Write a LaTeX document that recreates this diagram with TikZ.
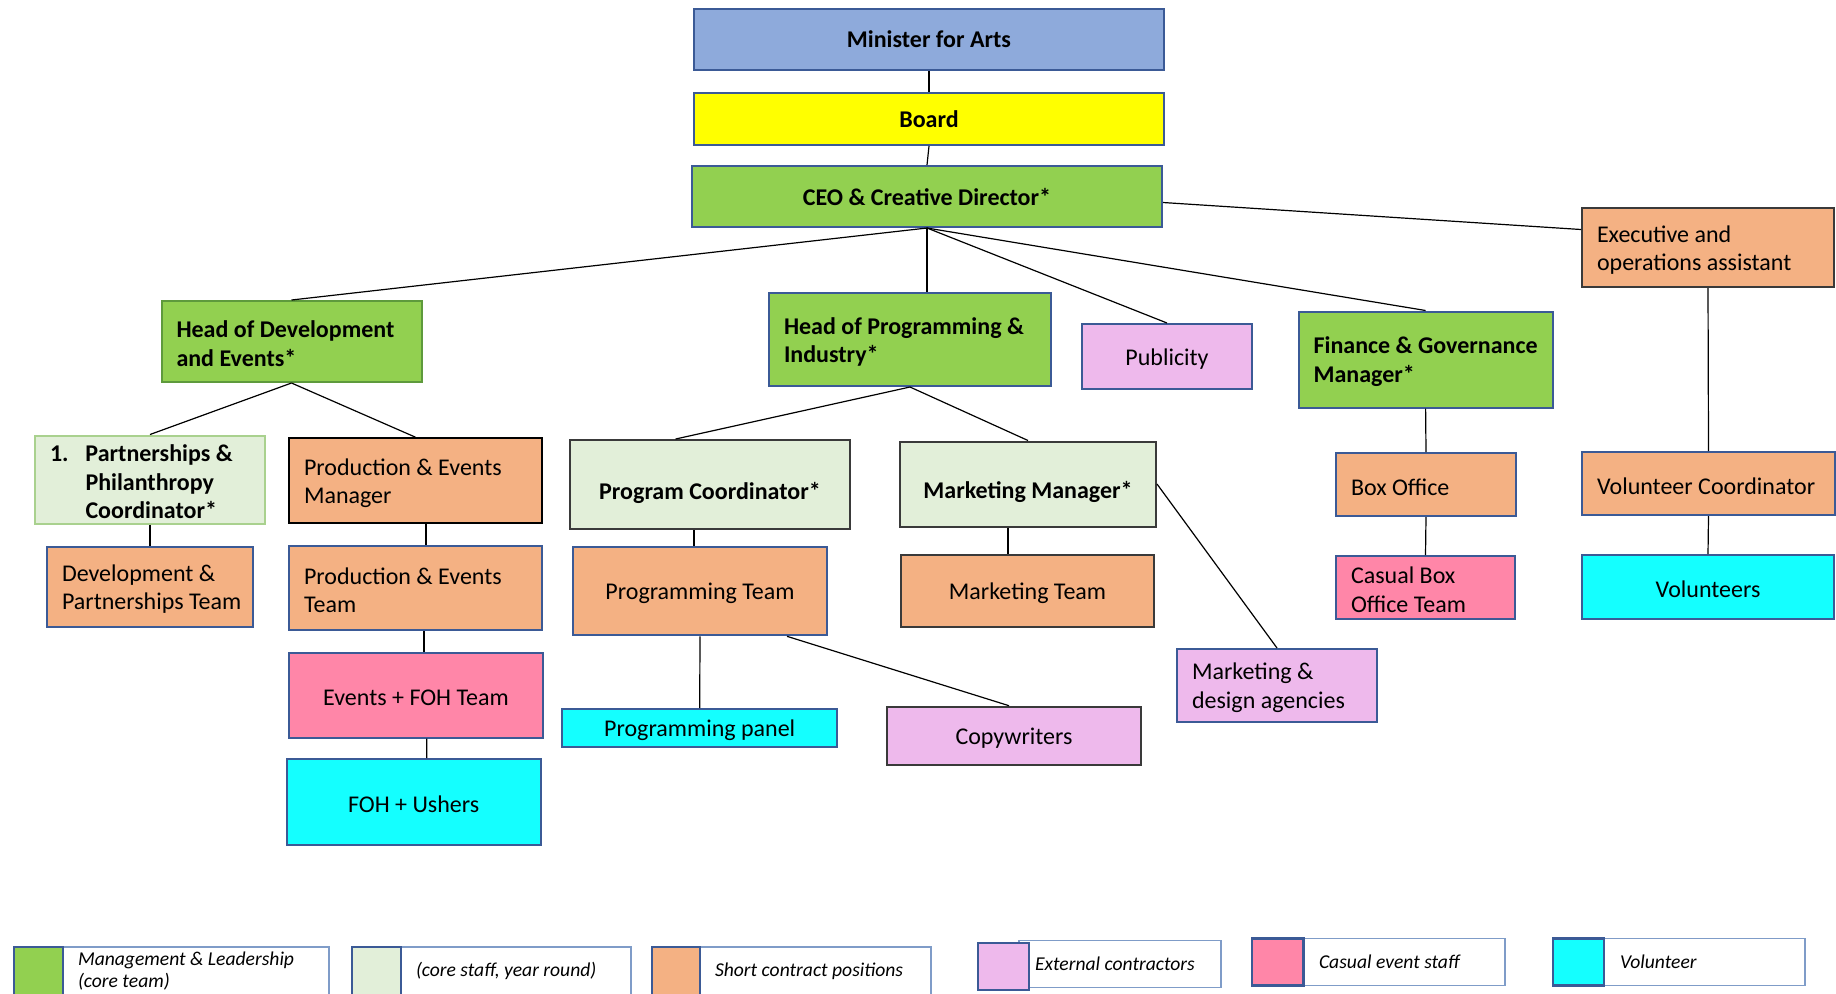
\documentclass[tikz,border=0pt]{standalone}
\usepackage{fontspec}
\setmainfont{Carlito}
\usetikzlibrary{calc}
\definecolor{cblue}{HTML}{8EAADB}
\definecolor{cyel}{HTML}{FFFF00}
\definecolor{cgreen}{HTML}{92D050}
\definecolor{clgreen}{HTML}{E2EFD9}
\definecolor{corange}{HTML}{F4B183}
\definecolor{clav}{HTML}{EEB9EC}
\definecolor{cpink}{HTML}{FF86A8}
\definecolor{ccyan}{HTML}{14FFFF}
\definecolor{bblue}{HTML}{3B5A96}
\definecolor{bgray}{HTML}{3A3A3A}
\definecolor{bhgreen}{HTML}{5E9A3C}
\definecolor{bpgreen}{HTML}{A9D18E}
\definecolor{lgline}{HTML}{7F9CC8}
\begin{document}
\begin{tikzpicture}[x=0.5pt,y=-0.5pt,
  base0/.style={draw=bblue, line width=1pt, inner ysep=1pt, font=\fontsize{12}{14.1}\selectfont, text=black},
  base/.style={base0, execute at begin node={\rule{0pt}{10.6pt}}},
  heavy/.style={font=\fontsize{12}{14.1}\selectfont\bfseries},
  lower/.style={execute at begin node={\rule{0pt}{17pt}}},
  lbox/.style={base, align=flush left, inner xsep=7.5pt},
  cbox/.style={base, align=center, inner xsep=2pt},
  topbox/.style={base0, align=center, inner xsep=2pt},
  conn/.style={draw=black, line width=0.6pt},
  legsq/.style={draw=bblue, line width=1.2pt, inner sep=0pt},
  legtx/.style={draw=lgline, line width=0.7pt, fill=white, align=flush left, inner xsep=7.5pt, inner ysep=0pt, font=\fontsize{9.8}{10.6}\selectfont\itshape}
]
\useasboundingbox (0,0) rectangle (1836,993);
\clip (0,0) rectangle (1836,993);

% top
\node[topbox, heavy, fill=cblue, minimum width=235pt, minimum height=30.5pt] (minister) at (929,39.5) {Minister for Arts};
\node[topbox, heavy, fill=cyel, minimum width=235pt, minimum height=26pt] (board) at (929,119) {Board};
\node[topbox, heavy, fill=cgreen, minimum width=235pt, minimum height=30.5pt] (ceo) at (927,196.5) {CEO \& Creative Director*};
\node[lbox, fill=corange, draw=bgray, minimum width=126pt, minimum height=39.5pt, text width=111pt] (exec) at (1708,247.5) {\mbox{Executive and}\\\mbox{operations assistant}};

% second level
\node[lbox, heavy, fill=cgreen, draw=bhgreen, minimum width=130pt, minimum height=40.5pt, text width=115pt] (hod) at (291.5,341.5) {\mbox{Head of Development}\\\mbox{and Events*}};
\node[lbox, heavy, fill=cgreen, minimum width=141pt, minimum height=46.5pt, text width=126pt] (hop) at (910,339.5) {\mbox{Head of Programming \&}\\\mbox{Industry*}};
\node[cbox, fill=clav, minimum width=85pt, minimum height=32.5pt] (pub) at (1167,356.5) {Publicity};
\node[lbox, heavy, fill=cgreen, minimum width=127pt, minimum height=48pt, text width=112pt] (fin) at (1425.6,359.5) {\mbox{Finance \& Governance}\\\mbox{Manager*}};

% third level
\node[lbox, heavy, fill=clgreen, draw=bpgreen, minimum width=115pt, minimum height=44pt, text width=100pt] (part) at (150,479.5) {\makebox[17.75pt][l]{1.}Partnerships \&\\\hspace*{17.75pt}Philanthropy\\\hspace*{17.75pt}Coordinator*};
\node[lbox, fill=corange, draw=black, minimum width=126.5pt, minimum height=42.5pt, text width=111.5pt] (pem) at (415.5,480.7) {\mbox{Production \& Events}\\\mbox{Manager}};
\node[cbox, heavy, lower, fill=clgreen, draw=bgray, minimum width=140pt, minimum height=44.5pt] (pc) at (710,484.5) {Program Coordinator*};
\node[cbox, heavy, lower, fill=clgreen, draw=bgray, minimum width=128pt, minimum height=42.5pt] (mm) at (1028,484) {Marketing Manager*};
\node[lbox, fill=corange, minimum width=90pt, minimum height=31.5pt, text width=75pt] (bo) at (1426,484.5) {\mbox{Box Office}};
\node[lbox, fill=corange, minimum width=126.5pt, minimum height=31.5pt, text width=111.5pt] (volc) at (1708.5,483.5) {\mbox{Volunteer Coordinator}};

% fourth level
\node[lbox, fill=corange, minimum width=103pt, minimum height=40pt, text width=88pt] (devt) at (150,587) {\mbox{Development \&}\\\mbox{Partnerships Team}};
\node[lbox, fill=corange, minimum width=126.5pt, minimum height=42pt, text width=111.5pt] (pet) at (415.5,588) {\mbox{Production \& Events}\\\mbox{Team}};
\node[cbox, fill=corange, minimum width=126.75pt, minimum height=44.3pt] (pt) at (700,591) {Programming Team};
\node[cbox, fill=corange, draw=bgray, minimum width=126.5pt, minimum height=36pt] (mt) at (1027.5,591.3) {Marketing Team};
\node[lbox, fill=cpink, minimum width=89.5pt, minimum height=31.5pt, text width=74.5pt] (cbo) at (1425.5,587.5) {\mbox{Casual Box}\\\mbox{Office Team}};
\node[cbox, fill=ccyan, minimum width=126pt, minimum height=32pt] (vols) at (1708,587) {Volunteers};

% lower levels
\node[lbox, fill=clav, minimum width=100pt, minimum height=36.5pt, text width=85pt] (md) at (1277,685.5) {\mbox{Marketing \&}\\\mbox{design agencies}};
\node[cbox, fill=cpink, minimum width=127pt, minimum height=42.5pt] (events) at (416,695) {Events + FOH Team};
\node[cbox, fill=ccyan, minimum width=127pt, minimum height=43pt] (foh) at (413.7,802) {FOH + Ushers};
\node[cbox, fill=ccyan, minimum width=137.3pt, minimum height=19pt, inner ysep=0pt] (pp) at (699.7,728) {Programming panel};
\node[cbox, fill=clav, draw=bgray, minimum width=126.75pt, minimum height=29.3pt] (copy) at (1014,736) {Copywriters};

% connectors
\draw[conn] (minister.south) -- (board.north);
\draw[conn] (board.south) -- (ceo.north);
\draw[conn] ([yshift=-3pt]ceo.east) -- ([yshift=9pt]exec.west);
\draw[conn] (ceo.south) -- (hod.north);
\draw[conn] (ceo.south) -- (ceo.south |- hop.north);
\draw[conn] (ceo.south) -- (pub.north);
\draw[conn] (ceo.south) -- (fin.north);
\draw[conn] (exec.south) -- (volc.north);
\draw[conn] (volc.south) -- (vols.north);
\draw[conn] (fin.south) -- (bo.north);
\draw[conn] (bo.south) -- (cbo.north);
\draw[conn] (hod.south) -- (part.north);
\draw[conn] (hod.south) -- (pem.north);
\draw[conn] (part.south) -- (devt.north);
\draw[conn] ([xshift=5.25pt]pem.south) -- ([xshift=5.25pt]pet.north);
\draw[conn] ([xshift=4.25pt]pet.south) -- ([xshift=4pt]events.north);
\draw[conn] ([xshift=5.35pt]events.south) -- ([xshift=6.5pt]foh.north);
\draw[conn] (hop.south) -- ([xshift=-17.2pt]pc.north);
\draw[conn] (hop.south) -- (mm.north);
\draw[conn] ([xshift=-8pt]pc.south) -- ([xshift=-3pt]pt.north);
\draw[conn] ([xshift=-10pt]mm.south) -- ([xshift=-9.75pt]mt.north);
\draw[conn] (mm.east) -- (md.north);
\draw[conn] (pt.south) -- (pp.north);
\draw[conn] ([xshift=43.5pt]pt.south) -- ([xshift=-2.5pt]copy.north);

% legend
\node[legtx, minimum width=133pt, minimum height=24pt, text width=118pt] (lt1) at (196,971) {Management \& Leadership\\(core team)};
\node[legsq, fill=cgreen, minimum width=24.5pt, minimum height=23.75pt] (ls1) at (38.5,971) {};
\node[legtx, minimum width=115pt, minimum height=24pt, text width=100pt] (lt2) at (516,971) {(core staff, year round)};
\node[legsq, fill=clgreen, minimum width=24.5pt, minimum height=23.75pt] (ls2) at (376.5,971) {};
\node[legtx, minimum width=115.5pt, minimum height=24pt, text width=100.5pt] (lt3) at (815.5,971) {Short contract positions};
\node[legsq, fill=corange, minimum width=24pt, minimum height=23.75pt] (ls3) at (676,971) {};
\node[legtx, minimum width=100.8pt, minimum height=23.5pt, text width=85pt, inner xsep=8pt] (lt4) at (1120,964.2) {External contractors};
\node[legsq, fill=clav, minimum width=25.5pt, minimum height=23.5pt] (ls4) at (1003.5,966.5) {};
\node[legtx, minimum width=101pt, minimum height=23.5pt, text width=85pt, inner xsep=8pt] (lt5) at (1404,961.8) {Casual event staff};
\node[legsq, fill=cpink, minimum width=25.8pt, minimum height=23.5pt] (ls5) at (1277.5,961.8) {};
\node[legtx, minimum width=100.5pt, minimum height=23.5pt, text width=84.5pt, inner xsep=8pt] (lt6) at (1704.5,961.8) {Volunteer};
\node[legsq, fill=ccyan, minimum width=25.5pt, minimum height=23.5pt] (ls6) at (1578.5,961.8) {};
\end{tikzpicture}
\end{document}
